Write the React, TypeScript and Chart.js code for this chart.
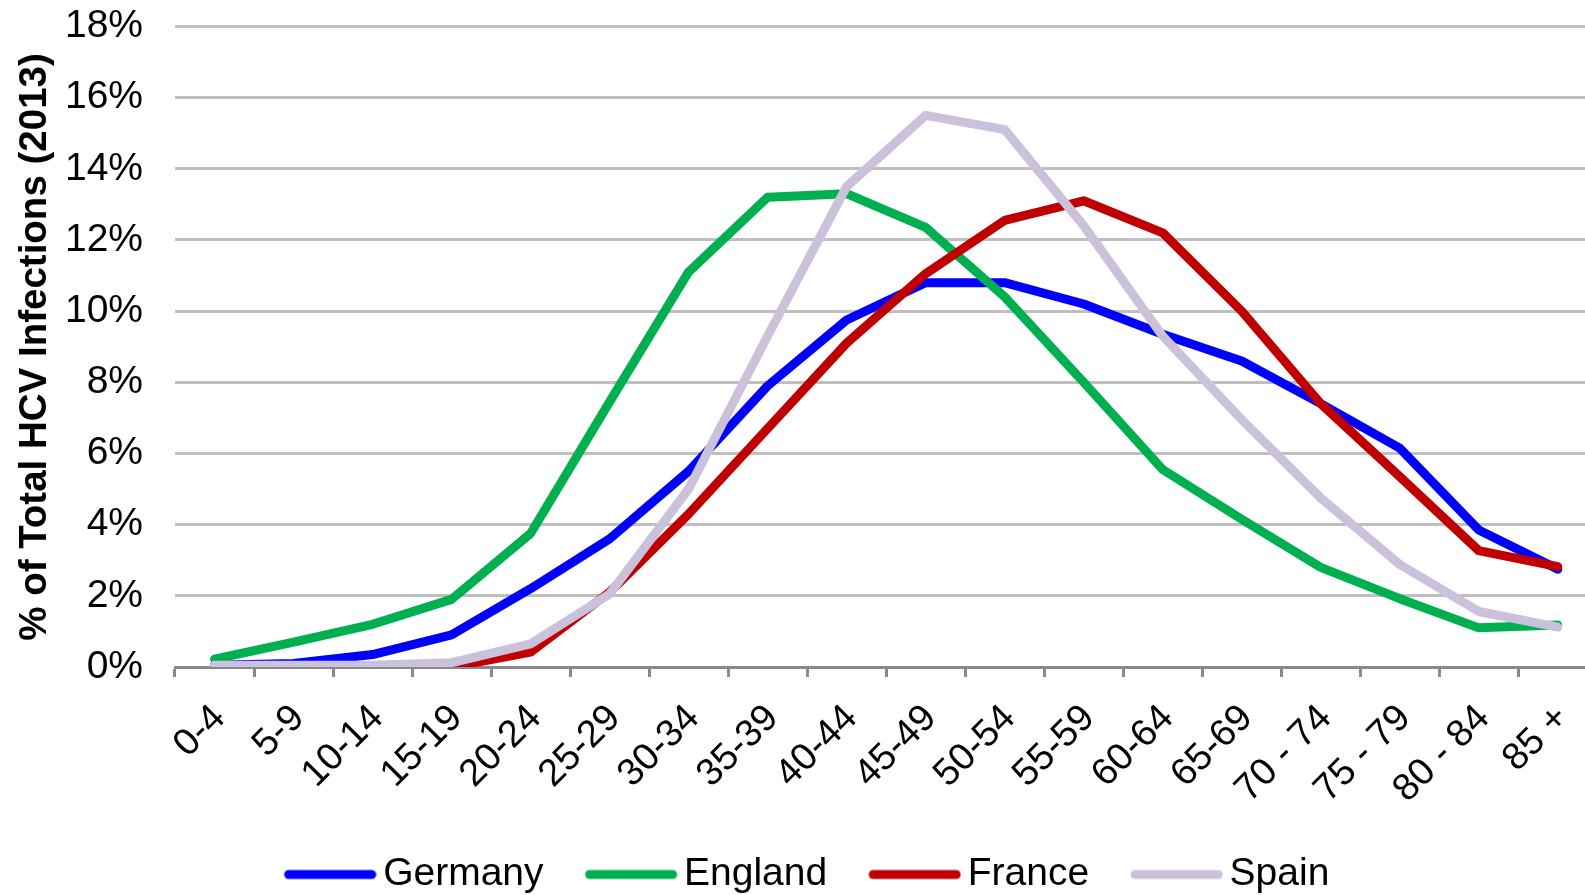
import React, { useEffect, useRef } from 'react';
import { Chart, registerables } from 'chart.js';

Chart.register(...registerables);

const ageGroups = ['0-4', '5-9', '10-14', '15-19', '20-24', '25-29', '30-34', '35-39', '40-44', '45-49', '50-54', '55-59', '60-64', '65-69', '70 - 74', '75 - 79', '80 - 84', '85 +'];
const germany = [0.05, 0.1, 0.35, 0.9, 2.2, 3.6, 5.5, 7.9, 9.75, 10.8, 10.8, 10.2, 9.35, 8.6, 7.4, 6.15, 3.85, 2.75];
const england = [0.22, 0.7, 1.2, 1.9, 3.75, 7.45, 11.1, 13.2, 13.3, 12.35, 10.4, 8.0, 5.55, 4.15, 2.8, 1.92, 1.1, 1.18];
const france = [0, 0, 0, 0, 0.42, 2.1, 4.3, 6.7, 9.1, 11.05, 12.55, 13.1, 12.2, 10.0, 7.4, 5.35, 3.27, 2.82];
const spain = [0.05, 0.05, 0.05, 0.12, 0.65, 2.05, 5.0, 9.3, 13.5, 15.5, 15.1, 12.4, 9.3, 6.95, 4.75, 2.88, 1.56, 1.12];
const seriesNames = ['Germany', 'England', 'France', 'Spain'];
const seriesColors = ['#0000FF', '#00B050', '#C00000', '#CCC1DA'];
const yAxisTitle = '% of Total HCV Infections (2013)';
const yMin = 0;
const yMax = 18;
const yStep = 2;

const FONT = "'Liberation Sans', Arial, sans-serif";
const CANVAS_W = 1609;
const CANVAS_H = 904;
const PLOT_BOTTOM = 667;

function makeSwatch(color: string) {
  const c = document.createElement('canvas');
  c.width = 110;
  c.height = 12;
  const g = c.getContext('2d')!;
  g.strokeStyle = color;
  g.lineWidth = 9;
  g.lineCap = 'round';
  g.beginPath();
  g.moveTo(22, 6);
  g.lineTo(105, 6);
  g.stroke();
  return c;
}

const yTitlePlugin = {
  id: 'yTitle',
  afterDraw(chart: any) {
    const ctx = chart.ctx;
    ctx.save();
    ctx.translate(46, 347);
    ctx.rotate(-Math.PI / 2);
    ctx.font = `bold 38.5px ${FONT}`;
    ctx.fillStyle = '#000000';
    ctx.textAlign = 'center';
    ctx.textBaseline = 'alphabetic';
    ctx.fillText(yAxisTitle, 0, 0);
    ctx.restore();
  },
};

export default function App() {
  const ref = useRef<HTMLCanvasElement | null>(null);

  useEffect(() => {
    if (!ref.current) return;
    Chart.defaults.font.family = FONT;
    const seriesData = [germany, england, france, spain];
    const swatches = seriesColors.map((c) => makeSwatch(c));
    const chart = new Chart(ref.current, {
      type: 'line',
      data: {
        labels: ageGroups,
        datasets: seriesNames.map((name, i) => ({
          label: name,
          data: seriesData[i],
          borderColor: seriesColors[i],
          backgroundColor: seriesColors[i],
          borderWidth: 9,
          borderCapStyle: 'round',
          borderJoinStyle: 'round',
          pointRadius: 0,
          pointHoverRadius: 0,
          tension: 0,
          fill: false,
          order: 4 - i,
        })),
      },
      options: {
        responsive: false,
        devicePixelRatio: 1,
        animation: false,
        layout: { padding: { top: 26, left: 0, right: 0, bottom: 0 } },
        plugins: {
          tooltip: { enabled: false },
          title: { display: false },
          legend: {
            display: true,
            position: 'bottom',
            labels: {
              usePointStyle: true,
              pointStyleWidth: 84,
              padding: 37,
              color: '#000000',
              font: { size: 39, family: FONT },
              generateLabels: (ch: any) =>
                ch.data.datasets.map((ds: any, i: number) => ({
                  text: ds.label,
                  fillStyle: seriesColors[i],
                  strokeStyle: seriesColors[i],
                  lineWidth: 1,
                  pointStyle: swatches[i],
                  hidden: false,
                  datasetIndex: i,
                  fontColor: '#000000',
                })),
            },
          },
        },
        scales: {
          x: {
            type: 'category',
            offset: true,
            grid: {
              display: true,
              drawOnChartArea: false,
              drawTicks: true,
              tickLength: 10,
              tickColor: '#898989',
              tickWidth: 3,
              offset: true,
            },
            border: { display: true, color: '#898989', width: 3 },
            ticks: {
              autoSkip: false,
              minRotation: 45,
              maxRotation: 45,
              padding: 19,
              labelOffset: 5,
              color: '#000000',
              font: { size: 38, family: FONT },
            },
            afterFit: (scale: any) => {
              const lh = scale.chart.legend ? scale.chart.legend.height : 86;
              scale.height = CANVAS_H - lh - PLOT_BOTTOM;
            },
          },
          y: {
            type: 'linear',
            min: yMin,
            max: yMax,
            grid: {
              display: true,
              drawOnChartArea: true,
              drawTicks: true,
              tickLength: 29,
              tickColor: 'rgba(0,0,0,0)',
              color: '#BFBFBF',
              lineWidth: 3,
            },
            border: { display: false },
            ticks: {
              stepSize: yStep,
              padding: 3,
              color: '#000000',
              font: { size: 39, family: FONT },
              callback: (v: any) => `${v}%`,
            },
            afterFit: (scale: any) => {
              scale.width = 175;
            },
          },
        },
      },
      plugins: [yTitlePlugin],
    } as any);
    return () => chart.destroy();
  }, []);

  return (
    <div style={{ position: 'fixed', left: 0, top: 0, width: 1585, height: 895, overflow: 'hidden', background: '#ffffff' }}>
      <canvas ref={ref} width={CANVAS_W} height={CANVAS_H} style={{ display: 'block', width: CANVAS_W, height: CANVAS_H }} />
    </div>
  );
}
